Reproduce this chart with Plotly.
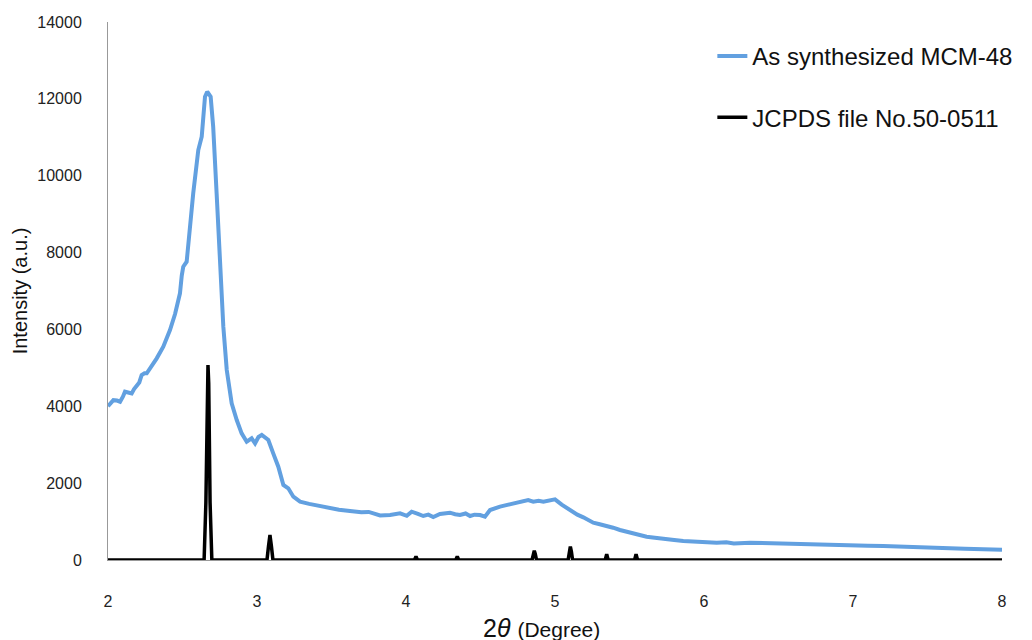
import plotly.graph_objects as go

# As synthesized MCM-48 (2theta, intensity)
mcm_x = [2.00, 2.036, 2.06, 2.081, 2.10, 2.114, 2.135, 2.159, 2.175, 2.193, 2.21, 2.226, 2.245, 2.26,
         2.293, 2.327, 2.371, 2.416, 2.45, 2.483, 2.495, 2.505, 2.528, 2.55, 2.572, 2.606, 2.629,
         2.651, 2.666, 2.689, 2.706, 2.729, 2.752, 2.774, 2.797, 2.83, 2.864, 2.897, 2.931, 2.964,
         2.987, 3.01, 3.032, 3.055, 3.076, 3.109, 3.143, 3.177, 3.21, 3.244, 3.289, 3.35, 3.423,
         3.5, 3.55, 3.624, 3.7, 3.75, 3.826, 3.893, 3.96, 4.005, 4.038, 4.08, 4.116, 4.15, 4.183,
         4.228, 4.26, 4.295, 4.33, 4.362, 4.40, 4.43, 4.46, 4.497, 4.53, 4.564, 4.631, 4.68, 4.72,
         4.787, 4.82, 4.854, 4.89, 4.922, 4.96, 5.0, 5.045, 5.112, 5.15, 5.19, 5.257, 5.30, 5.347,
         5.39, 5.436, 5.48, 5.526, 5.57, 5.615, 5.67, 5.727, 5.80, 5.861, 5.95, 6.0, 6.085, 6.15,
         6.2, 6.309, 6.4, 6.532, 6.6, 6.756, 6.85, 6.98, 7.1, 7.203, 7.3, 7.427, 7.55, 7.651, 7.75,
         7.874, 8.0]
mcm_y = [4000, 4160, 4150, 4120, 4250, 4380, 4360, 4337, 4450, 4554, 4620, 4814, 4860, 4858,
         5030, 5248, 5551, 5985, 6400, 6940, 7400, 7632, 7762, 8673, 9542, 10669, 11015,
         12056, 12186, 12056, 11275, 9542, 7806, 6071, 4944, 4077, 3643, 3296, 3078, 3165,
         3036, 3200, 3253, 3200, 3123, 2776, 2428, 1952, 1865, 1647, 1517, 1460, 1405,
         1330, 1310, 1275, 1240, 1250, 1160, 1171, 1214, 1150, 1257, 1200, 1145, 1180, 1120,
         1197, 1210, 1231, 1190, 1171, 1210, 1145, 1180, 1171, 1127, 1301, 1388, 1430, 1457,
         1517, 1560, 1517, 1540, 1517, 1540, 1579, 1440, 1257, 1180, 1110, 971, 930, 893,
         840, 781, 740, 694, 640, 607, 580, 564, 520, 494, 480, 455, 451, 460,
         430, 451, 440, 434, 420, 390, 400, 373, 370, 364, 355, 347, 320, 304, 290,
         270, 265]

# JCPDS file No.50-0511 reference pattern (profile points)
jcpds_x = [2.0, 2.645, 2.657, 2.666, 2.671, 2.676, 2.685, 2.697,
           3.067, 3.077, 3.087, 3.097, 3.107,
           4.057, 4.067, 4.077,
           4.334, 4.344, 4.354,
           4.846, 4.854, 4.861, 4.868, 4.876,
           5.088, 5.096, 5.103, 5.110, 5.118,
           5.337, 5.347, 5.357,
           5.534, 5.544, 5.554,
           8.0]
jcpds_y = [0, 0, 1500, 4600, 5074, 4600, 1500, 0,
           0, 350, 650, 350, 0,
           0, 90, 0,
           0, 90, 0,
           0, 150, 240, 150, 0,
           0, 220, 350, 220, 0,
           0, 150, 0,
           0, 150, 0,
           0]

x_ticks = [2, 3, 4, 5, 6, 7, 8]
y_ticks = [0, 2000, 4000, 6000, 8000, 10000, 12000, 14000]
y_tick_labels = ["0", "2000", "4000", "6000", "8000", "10000", "12000", "14000"]

font_family = "Arial, Liberation Sans, sans-serif"

fig = go.Figure()
fig.add_trace(go.Scatter(x=mcm_x, y=mcm_y, mode="lines", name="As synthesized MCM-48",
                         line=dict(color="#62a0e0", width=4), legendgroup="a"))
fig.add_trace(go.Scatter(x=jcpds_x, y=jcpds_y, mode="lines", name="JCPDS file No.50-0511",
                         line=dict(color="#000000", width=3.5), legendgroup="b"))

fig.update_layout(
    width=1032, height=640,
    margin=dict(l=100, r=38, t=14, b=88, autoexpand=False),
    plot_bgcolor="white", paper_bgcolor="white",
    font=dict(family=font_family, color="#222222"),
    showlegend=True,
    legend=dict(x=0.676, y=0.978, xanchor="left", yanchor="top",
                font=dict(size=24, color="#111111", family=font_family),
                bgcolor="rgba(0,0,0,0)", traceorder="grouped", tracegroupgap=27,
                itemwidth=30),
    xaxis=dict(range=[2, 8], tickvals=x_ticks, ticks="", showgrid=False, zeroline=False,
               showline=True, linecolor="#999999", linewidth=1, automargin=False,
               tickfont=dict(size=16, color="#222222"), ticklabelstandoff=27),
    yaxis=dict(range=[0, 14000], tickvals=y_ticks, ticktext=y_tick_labels, ticks="",
               showgrid=False, zeroline=False, automargin=False,
               showline=True, linecolor="#999999", linewidth=1,
               tickfont=dict(size=16, color="#222222"), ticklabelstandoff=22,
               title=dict(text="Intensity (a.u.)", font=dict(size=20, color="#111111"),
                          standoff=4)),
    annotations=[dict(text="2<i>θ</i> <span style='font-size:21px'>(Degree)</span>",
                      xref="paper", yref="paper", x=0.485, y=0, xanchor="center",
                      yanchor="middle", yshift=-68, showarrow=False,
                      font=dict(size=25, color="#111111", family=font_family))],
)

fig.write_html("out.html")
